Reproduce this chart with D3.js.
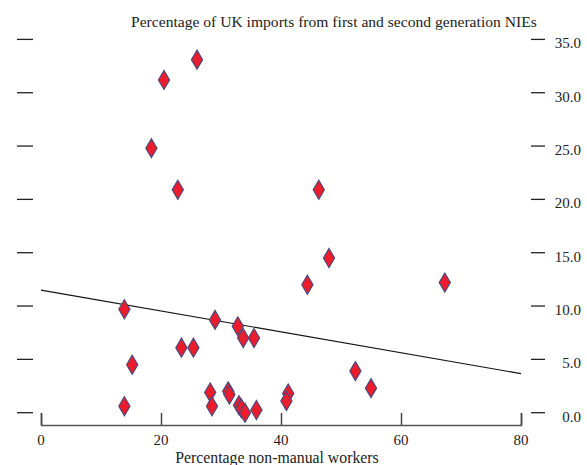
<html>
<head>
  <title>UK imports from NIEs vs non-manual workers</title>
  <script src="https://d3js.org/d3.v7.min.js"></script>
  <style>
    body {
      margin: 0;
      background: #fff;
      font-family: "Liberation Serif", "Times New Roman", serif;
    }
    text {
      fill: #222;
    }
  </style>
</head>
<body>
  <script>
    // percentage non-manual workers (x) and percentage of imports from NIEs (y)
    var nonManual = [26.0, 20.5, 18.4, 22.8, 46.3, 48.0, 44.4, 67.3,
                     13.9, 29.0, 32.8, 33.7, 35.5, 23.4, 25.4, 15.2,
                     52.4, 55.0, 28.2, 31.2, 31.4, 41.2, 40.9, 13.9,
                     28.5, 33.0, 33.4, 34.0, 35.9];
    var importsNIE = [33.1, 31.2, 24.8, 20.9, 20.9, 14.5, 12.0, 12.2,
                      9.7, 8.7, 8.1, 7.0, 7.0, 6.1, 6.1, 4.5,
                      3.9, 2.3, 1.9, 2.0, 1.7, 1.8, 1.1, 0.6,
                      0.6, 0.7, 0.4, 0.0, 0.25];
    var xTicks = [0, 20, 40, 60, 80];
    var yTicks = [0, 5, 10, 15, 20, 25, 30, 35];
    // fitted trend line
    var fitIntercept = 11.5,
        fitSlope = -0.098;

    var width = 587,
        height = 465;

    var svg = d3.select("body")
      .append("svg")
      .attr("width", width)
      .attr("height", height);

    var x = d3.scaleLinear().domain([0, 80]).range([41, 521]);
    var y = d3.scaleLinear().domain([0, 35]).range([412.7, 39.4]);

    // left tick marks (no labels)
    svg.append("g")
      .selectAll("line")
      .data(yTicks)
      .enter()
      .append("line")
      .attr("x1", 17).attr("x2", 33)
      .attr("y1", y).attr("y2", y)
      .attr("stroke", "#222")
      .attr("stroke-width", 1.3);

    // right tick marks with labels
    var right = svg.append("g");
    right.selectAll("line")
      .data(yTicks)
      .enter()
      .append("line")
      .attr("x1", 531).attr("x2", 545)
      .attr("y1", y).attr("y2", y)
      .attr("stroke", "#222")
      .attr("stroke-width", 1.3);
    right.selectAll("text")
      .data(yTicks)
      .enter()
      .append("text")
      .attr("x", 581)
      .attr("y", function(d) { return y(d) + 9; })
      .attr("text-anchor", "end")
      .style("font-size", "15px")
      .text(d3.format(".1f"));

    // bottom axis
    var xAxis = svg.append("g")
      .attr("transform", "translate(0,425)")
      .call(d3.axisTop(x).tickValues(xTicks).tickSize(12).tickFormat(""));
    xAxis.select(".domain").attr("stroke", "#555").attr("stroke-width", 1.5);
    xAxis.selectAll(".tick line").attr("stroke", "#444").attr("stroke-width", 1.5);

    svg.append("g")
      .selectAll("text")
      .data(xTicks)
      .enter()
      .append("text")
      .attr("x", x)
      .attr("y", 445)
      .attr("text-anchor", "middle")
      .style("font-size", "15px")
      .text(function(d) { return d; });

    // trend line
    svg.append("line")
      .attr("x1", x(0)).attr("y1", y(fitIntercept))
      .attr("x2", x(80)).attr("y2", y(fitIntercept + fitSlope * 80))
      .attr("stroke", "#111")
      .attr("stroke-width", 1.2);

    // diamonds
    var diamond = "M0,-9.5L5.6,0L0,9.5L-5.6,0Z";
    svg.append("g")
      .selectAll("path")
      .data(d3.range(nonManual.length))
      .enter()
      .append("path")
      .attr("d", diamond)
      .attr("transform", function(i) {
        return "translate(" + x(nonManual[i]) + "," + y(importsNIE[i]) + ")";
      })
      .attr("fill", "#ec1c2c")
      .attr("stroke", "#4b4a7c")
      .attr("stroke-width", 1.2);

    // titles
    svg.append("text")
      .attr("x", 131)
      .attr("y", 27)
      .style("font-size", "15.6px")
      .text("Percentage of UK imports from first and second generation NIEs");

    svg.append("text")
      .attr("x", 277)
      .attr("y", 463)
      .attr("text-anchor", "middle")
      .style("font-size", "15.8px")
      .text("Percentage non-manual workers");
  </script>
</body>
</html>
